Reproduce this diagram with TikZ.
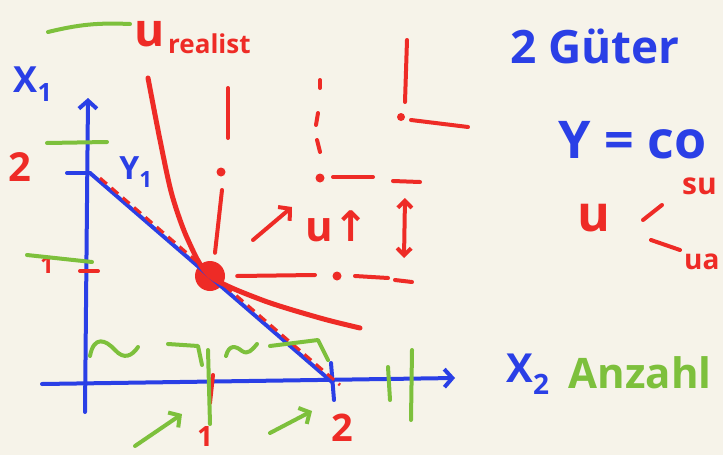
\documentclass[tikz,border=0pt]{standalone}
\usepackage{fontspec}
\setmainfont{Open Sans}
\newfontfamily\arrowfont{DejaVu Sans}
\usetikzlibrary{arrows.meta}
\definecolor{paper}{HTML}{F6F3E9}
\definecolor{penblue}{HTML}{2A3FE6}
\definecolor{penred}{HTML}{EE2B26}
\definecolor{pengreen}{HTML}{7DC03C}
\begin{document}
\begin{tikzpicture}[x=1pt, y=-1pt,
    ink/.style={line width=4pt, line cap=round, line join=round},
    blueink/.style={ink, draw=penblue},
    redink/.style={ink, draw=penred},
    greenink/.style={ink, draw=pengreen},
    barb/.style={-{Straight Barb[length=8pt, width=18pt, line width=4pt]}},
    fsize/.style={font=\fontsize{#1}{#1}\selectfont\bfseries},
    note/.style={inner sep=0pt, anchor=center}]
    % Paper:
    \fill[paper] (0,0) rectangle (723,455);
    \useasboundingbox (0,0) rectangle (723,455);
    % Points:
    \coordinate (o) at (87,381);
    \coordinate (ytop) at (88,98);
    \coordinate (ybot) at (85,412);
    \coordinate (xleft) at (42,384);
    \coordinate (xright) at (455,378);
    \coordinate (ya) at (90,173);
    \coordinate (xb) at (332,382);
    \node[circle, fill=penred, minimum size=30pt, inner sep=0pt] (opt) at (210,276){};
    \coordinate (c2) at (320,178);
    \coordinate (c3) at (401,117);
    % Axes and budget line:
    \draw[blueink, barb] (ybot) -- (ytop);
    \draw[blueink, barb] (xleft) -- (xright);
    \draw[blueink] (ya) -- (xb);
    \draw[blueink] (67,173) -- (ya);
    \draw[blueink] (331,363) -- (334,400);
    \node[note, text=penblue, fsize=36] (x1) at (33,84){X\textsubscript{1}};
    \node[note, text=penblue, fsize=40] (x2) at (528,374){X\textsubscript{2}};
    \node[note, text=penblue, fsize=32] (y1) at (136,172){Y\textsubscript{1}};
    % Tangent and indifference curve:
    \draw[penred, line width=3pt, dash pattern=on 9pt off 6pt] (100,178) -- (340,385);
    \draw[redink, line width=5pt] plot[smooth] coordinates {(148,78) (160,140) (172,195) (188,240) (opt) (262,300) (320,318) (360,328)};
    \node[note, text=penred, fsize=46] (ulab) at (150,34){u};
    \node[note, text=penred, fsize=26, anchor=west] (real) at (168,44){realist};
    % Dash-dot guides:
    \draw[redink] (228,88) -- (228,138);
    \fill[penred] (221,172) circle (4.5pt);
    \draw[redink] (222,190) -- ([xshift=5pt, yshift=8pt]opt.north);
    \draw[redink] ([xshift=12pt]opt.east) -- (315,275);
    \fill[penred] (337,276) circle (4.5pt);
    \draw[redink] (355,276) -- (388,278);
    \draw[redink] (395,280) -- (412,282);
    \draw[redink] (320,80) -- (320,88);
    \draw[redink] (318,113) -- (316,125);
    \draw[redink] (317,140) -- (320,152);
    \fill[penred] (c2) circle (4.5pt);
    \draw[redink] (333,177) -- (373,177);
    \draw[redink] (393,181) -- (420,182);
    \draw[redink] (407,40) -- (405,102);
    \fill[penred] (c3) circle (4pt);
    \draw[redink] (411,120) -- (468,127);
    % Utility up:
    \draw[redink, barb] (253,240) -- (292,207);
    \node[note, text=penred, fsize=42] (uup) at (337,226){u{\arrowfont\bfseries ↑}};
    \draw[redink, {Straight Barb[length=7pt, width=14pt, line width=4pt]}-{Straight Barb[length=7pt, width=14pt, line width=4pt]}] (405,198) -- (404,258);
    % Ticks and numbers:
    \draw[redink] (80,271) -- (98,271);
    \draw[redink] (213,375) -- (210,403);
    \node[note, text=penred, fsize=40] (two1) at (20,167){2};
    \node[note, text=penred, fsize=24] (one1) at (47,265){1};
    \node[note, text=penred, fsize=28] (one2) at (205,437){1};
    \node[note, text=penred, fsize=38] (two2) at (342,428){2};
    % Green marks:
    \draw[greenink] (48,32) to[bend left=8] (130,24);
    \draw[greenink] (47,143) -- (107,142);
    \draw[greenink] (27,255) -- (92,262);
    \draw[greenink] (90,356) .. controls (94,335) and (106,340) .. (115,350) .. controls (124,360) and (132,356) .. (138,347);
    \draw[greenink] (168,344) -- (198,346) -- (202,365);
    \draw[greenink] (208,350) -- (210,424);
    \draw[greenink] (226,356) .. controls (229,344) and (236,346) .. (242,351) .. controls (248,355) and (252,350) .. (257,344);
    \draw[greenink] (270,346) -- (318,340) -- (328,360);
    \draw[greenink] (388,367) -- (390,400);
    \draw[greenink] (412,350) -- (411,420);
    \draw[greenink, barb] (135,446) -- (182,414);
    \draw[greenink, barb] (270,433) -- (312,411);
    \node[note, text=pengreen, fsize=42] (anz) at (640,373){Anzahl};
    % Notes on the right:
    \node[note, text=penblue, fsize=46] (gut) at (595,46){2 Güter};
    \node[note, text=penblue, fsize=52, anchor=west] (ycon) at (558,140){Y = co};
    \node[note, text=penred, fsize=50] (uval) at (594,218){u};
    \draw[redink] (643,220) -- (662,205);
    \draw[redink] (651,240) -- (680,250);
    \node[note, text=penred, fsize=30, anchor=west] (su) at (682,186){su};
    \node[note, text=penred, fsize=28, anchor=west] (ua) at (684,262){ua};
\end{tikzpicture}
\end{document}
